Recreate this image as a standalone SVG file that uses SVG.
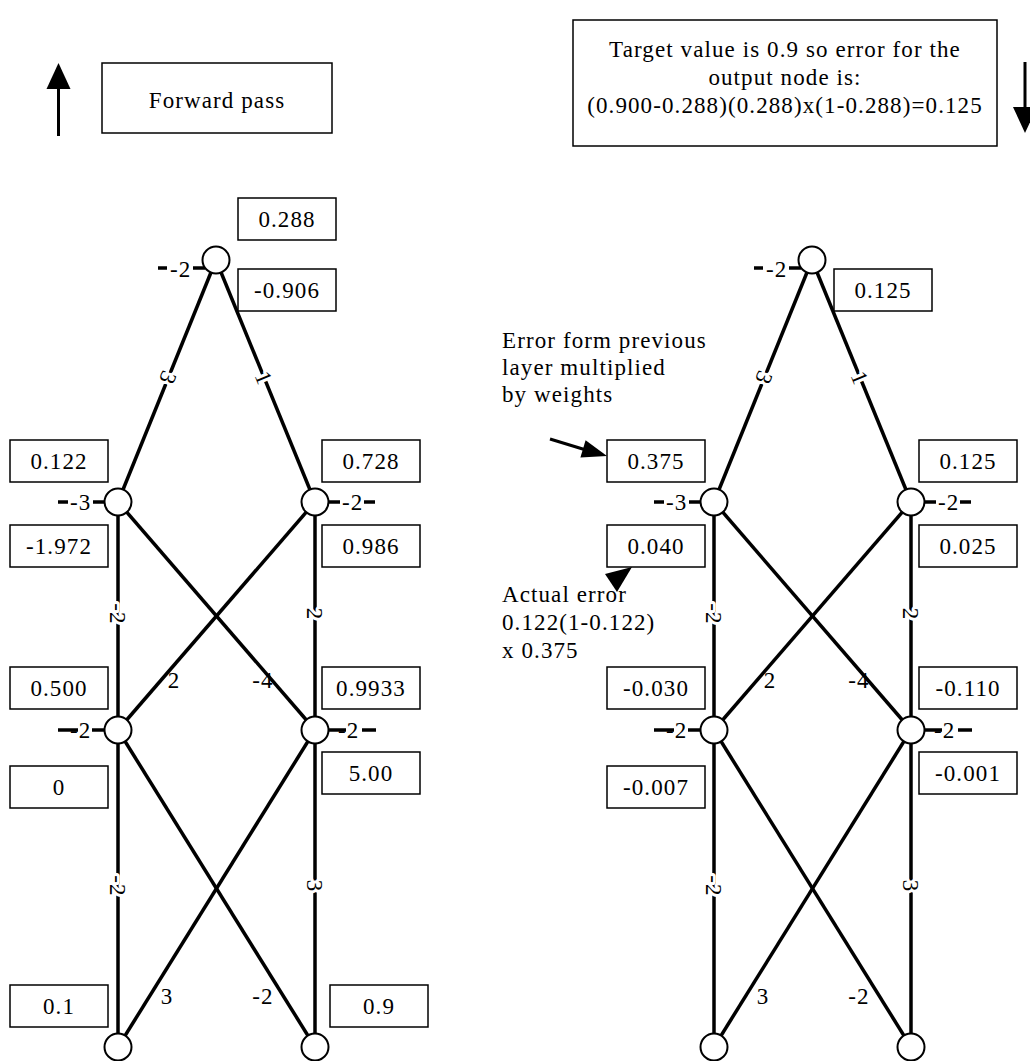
<svg xmlns="http://www.w3.org/2000/svg" width="1030" height="1061" viewBox="0 0 1030 1061">
  <style>
    .edge { stroke: #000; stroke-width: 3.5; fill: none; stroke-linecap: butt; }
    .bias { stroke: #000; stroke-width: 3.5; }
    .node { fill: #fff; stroke: #000; stroke-width: 2; }
    .box { fill: #fff; stroke: #000; stroke-width: 1.5; }
    .t { font-family: "Liberation Serif", "Times New Roman", serif; font-size: 23px; letter-spacing: 1.1px; fill: #000; }
    .c { text-anchor: middle; }
    .halo { stroke: #fff; stroke-width: 6; paint-order: stroke; stroke-linejoin: round; }
    .arrow { stroke: #000; stroke-width: 3; fill: none; }
  </style>
  <rect width="1030" height="1061" fill="#fff"/>

  <!-- direction captions -->
  <g id="forward-caption">
    <line class="arrow" x1="58.5" y1="136" x2="58.5" y2="86"/>
    <polygon points="58.5,63 46.5,89 70.5,89" fill="#000"/>
    <rect class="box" x="102" y="63" width="230" height="70"/>
    <text class="t c" x="217" y="108">Forward pass</text>
  </g>
  <g id="target-caption">
    <rect class="box" x="573" y="20" width="424" height="126"/>
    <text class="t c" x="785" y="57">Target value is 0.9 so error for the</text>
    <text class="t c" x="785" y="85">output node is:</text>
    <text class="t c" x="785" y="113">(0.900-0.288)(0.288)x(1-0.288)=0.125</text>
    <line class="arrow" x1="1025" y1="62" x2="1025" y2="110"/>
    <polygon points="1025,133 1013,107 1037,107" fill="#000"/>
  </g>

  <!-- weighted connections, forward network -->
  <g id="connectors">
    <line class="edge" x1="216" y1="260" x2="118" y2="502"/>
    <line class="edge" x1="216" y1="260" x2="315" y2="502"/>
    <line class="edge" x1="118" y1="502" x2="118" y2="730"/>
    <line class="edge" x1="315" y1="502" x2="315" y2="730"/>
    <line class="edge" x1="118" y1="502" x2="315" y2="730"/>
    <line class="edge" x1="315" y1="502" x2="118" y2="730"/>
    <line class="edge" x1="118" y1="730" x2="118" y2="1047"/>
    <line class="edge" x1="315" y1="730" x2="315" y2="1047"/>
    <line class="edge" x1="118" y1="730" x2="315" y2="1047"/>
    <line class="edge" x1="315" y1="730" x2="118" y2="1047"/>

    <!-- weighted connections, backward network -->
    <line class="edge" x1="812" y1="260" x2="714" y2="502"/>
    <line class="edge" x1="812" y1="260" x2="911" y2="502"/>
    <line class="edge" x1="714" y1="502" x2="714" y2="730"/>
    <line class="edge" x1="911" y1="502" x2="911" y2="730"/>
    <line class="edge" x1="714" y1="502" x2="911" y2="730"/>
    <line class="edge" x1="911" y1="502" x2="714" y2="730"/>
    <line class="edge" x1="714" y1="730" x2="714" y2="1047"/>
    <line class="edge" x1="911" y1="730" x2="911" y2="1047"/>
    <line class="edge" x1="714" y1="730" x2="911" y2="1047"/>
    <line class="edge" x1="911" y1="730" x2="714" y2="1047"/>

    <!-- weight labels, forward network -->
    <text class="t c halo" transform="translate(168 378) rotate(112)" dy="0.35em">3</text>
    <text class="t c halo" transform="translate(264 378) rotate(67.7)" dy="0.35em">1</text>
    <text class="t c halo" transform="translate(118 614) rotate(90)" dy="0.35em">-2</text>
    <text class="t c halo" transform="translate(315 614) rotate(90)" dy="0.35em">2</text>
    <text class="t c" x="174" y="688">2</text>
    <text class="t c" x="263" y="688">-4</text>
    <text class="t c halo" transform="translate(118 886) rotate(90)" dy="0.35em">-2</text>
    <text class="t c halo" transform="translate(315 886) rotate(90)" dy="0.35em">3</text>
    <text class="t c" x="167" y="1004">3</text>
    <text class="t c" x="263" y="1004">-2</text>

    <!-- weight labels, backward network -->
    <text class="t c halo" transform="translate(764 378) rotate(112)" dy="0.35em">3</text>
    <text class="t c halo" transform="translate(860 378) rotate(67.7)" dy="0.35em">1</text>
    <text class="t c halo" transform="translate(714 614) rotate(90)" dy="0.35em">-2</text>
    <text class="t c halo" transform="translate(911 614) rotate(90)" dy="0.35em">2</text>
    <text class="t c" x="770" y="688">2</text>
    <text class="t c" x="859" y="688">-4</text>
    <text class="t c halo" transform="translate(714 886) rotate(90)" dy="0.35em">-2</text>
    <text class="t c halo" transform="translate(911 886) rotate(90)" dy="0.35em">3</text>
    <text class="t c" x="763" y="1004">3</text>
    <text class="t c" x="859" y="1004">-2</text>
  </g>

  <!-- forward network nodes -->
  <g id="f-out">
    <line class="bias" x1="158" y1="268" x2="167" y2="268"/>
    <line class="bias" x1="193" y1="268" x2="205" y2="268"/>
    <text class="t" x="170" y="277">-2</text>
    <circle class="node" cx="216" cy="260" r="13.5"/>
    <rect class="box" x="238" y="198" width="98" height="42"/>
    <text class="t c" x="287" y="227">0.288</text>
    <rect class="box" x="238" y="269" width="98" height="42"/>
    <text class="t c" x="287" y="298">-0.906</text>
  </g>
  <g id="f-h1a">
    <line class="bias" x1="58" y1="502" x2="68" y2="502"/>
    <line class="bias" x1="93" y1="502" x2="105" y2="502"/>
    <text class="t" x="70" y="510">-3</text>
    <circle class="node" cx="118" cy="502" r="13.5"/>
    <rect class="box" x="10" y="440" width="98" height="42"/>
    <text class="t c" x="59" y="469">0.122</text>
    <rect class="box" x="10" y="525" width="98" height="42"/>
    <text class="t c" x="59" y="554">-1.972</text>
  </g>
  <g id="f-h1b">
    <line class="bias" x1="328" y1="502" x2="340" y2="502"/>
    <line class="bias" x1="364" y1="502" x2="375" y2="502"/>
    <text class="t" x="342" y="510">-2</text>
    <circle class="node" cx="315" cy="502" r="13.5"/>
    <rect class="box" x="322" y="440" width="98" height="42"/>
    <text class="t c" x="371" y="469">0.728</text>
    <rect class="box" x="322" y="525" width="98" height="42"/>
    <text class="t c" x="371" y="554">0.986</text>
  </g>
  <g id="f-h2a">
    <line class="bias" x1="58" y1="730" x2="78" y2="730"/>
    <line class="bias" x1="92" y1="730" x2="105" y2="730"/>
    <text class="t" x="70" y="738">-2</text>
    <circle class="node" cx="118" cy="730" r="13.5"/>
    <rect class="box" x="10" y="667" width="98" height="42"/>
    <text class="t c" x="59" y="696">0.500</text>
    <rect class="box" x="10" y="766" width="98" height="42"/>
    <text class="t c" x="59" y="795">0</text>
  </g>
  <g id="f-h2b">
    <line class="bias" x1="328" y1="730" x2="346" y2="730"/>
    <line class="bias" x1="362" y1="730" x2="376" y2="730"/>
    <text class="t" x="338" y="738">-2</text>
    <circle class="node" cx="315" cy="730" r="13.5"/>
    <rect class="box" x="322" y="667" width="98" height="42"/>
    <text class="t c" x="371" y="696">0.9933</text>
    <rect class="box" x="322" y="752" width="98" height="42"/>
    <text class="t c" x="371" y="781">5.00</text>
  </g>
  <g id="f-in1">
    <circle class="node" cx="118" cy="1047" r="13.5"/>
    <rect class="box" x="10" y="985" width="98" height="42"/>
    <text class="t c" x="59" y="1014">0.1</text>
  </g>
  <g id="f-in2">
    <circle class="node" cx="315" cy="1047" r="13.5"/>
    <rect class="box" x="330" y="985" width="98" height="42"/>
    <text class="t c" x="379" y="1014">0.9</text>
  </g>

  <!-- backward network nodes -->
  <g id="b-out">
    <line class="bias" x1="754" y1="268" x2="763" y2="268"/>
    <line class="bias" x1="789" y1="268" x2="801" y2="268"/>
    <text class="t" x="766" y="277">-2</text>
    <circle class="node" cx="812" cy="260" r="13.5"/>
    <rect class="box" x="834" y="269" width="98" height="42"/>
    <text class="t c" x="883" y="298">0.125</text>
  </g>
  <g id="b-h1a">
    <line class="bias" x1="654" y1="502" x2="664" y2="502"/>
    <line class="bias" x1="689" y1="502" x2="701" y2="502"/>
    <text class="t" x="666" y="510">-3</text>
    <circle class="node" cx="714" cy="502" r="13.5"/>
    <rect class="box" x="607" y="440" width="98" height="42"/>
    <text class="t c" x="656" y="469">0.375</text>
    <rect class="box" x="607" y="525" width="98" height="42"/>
    <text class="t c" x="656" y="554">0.040</text>
  </g>
  <g id="b-h1b">
    <line class="bias" x1="924" y1="502" x2="936" y2="502"/>
    <line class="bias" x1="960" y1="502" x2="971" y2="502"/>
    <text class="t" x="938" y="510">-2</text>
    <circle class="node" cx="911" cy="502" r="13.5"/>
    <rect class="box" x="919" y="440" width="98" height="42"/>
    <text class="t c" x="968" y="469">0.125</text>
    <rect class="box" x="919" y="525" width="98" height="42"/>
    <text class="t c" x="968" y="554">0.025</text>
  </g>
  <g id="b-h2a">
    <line class="bias" x1="654" y1="730" x2="674" y2="730"/>
    <line class="bias" x1="688" y1="730" x2="701" y2="730"/>
    <text class="t" x="666" y="738">-2</text>
    <circle class="node" cx="714" cy="730" r="13.5"/>
    <rect class="box" x="607" y="667" width="98" height="42"/>
    <text class="t c" x="656" y="696">-0.030</text>
    <rect class="box" x="607" y="766" width="98" height="42"/>
    <text class="t c" x="656" y="795">-0.007</text>
  </g>
  <g id="b-h2b">
    <line class="bias" x1="924" y1="730" x2="942" y2="730"/>
    <line class="bias" x1="958" y1="730" x2="972" y2="730"/>
    <text class="t" x="934" y="738">-2</text>
    <circle class="node" cx="911" cy="730" r="13.5"/>
    <rect class="box" x="919" y="667" width="98" height="42"/>
    <text class="t c" x="968" y="696">-0.110</text>
    <rect class="box" x="919" y="752" width="98" height="42"/>
    <text class="t c" x="968" y="781">-0.001</text>
  </g>
  <g id="b-in1">
    <circle class="node" cx="714" cy="1047" r="13.5"/>
  </g>
  <g id="b-in2">
    <circle class="node" cx="911" cy="1047" r="13.5"/>
  </g>

  <!-- explanatory notes for the hidden-layer error -->
  <g id="note-propagated">
    <text class="t" x="502" y="348">Error form previous</text>
    <text class="t" x="502" y="375">layer multiplied</text>
    <text class="t" x="502" y="402">by weights</text>
    <line class="arrow" x1="550" y1="439" x2="586" y2="450"/>
    <polygon points="607,456 580.4,457.4 585.6,440.2" fill="#000"/>
  </g>
  <g id="note-actual">
    <polygon points="605,574 632,567 617,592" fill="#000"/>
    <text class="t" x="502" y="602">Actual error</text>
    <text class="t" x="502" y="630">0.122(1-0.122)</text>
    <text class="t" x="502" y="658">x 0.375</text>
  </g>
</svg>
